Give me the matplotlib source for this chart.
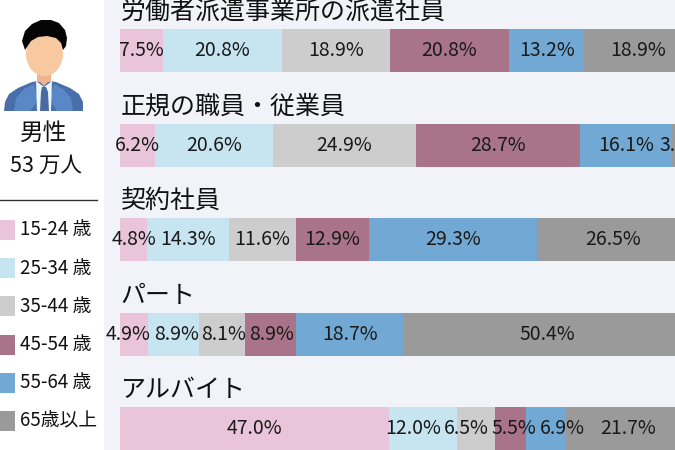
import matplotlib
matplotlib.use("Agg")
import matplotlib.pyplot as plt
from matplotlib.patches import Rectangle, Ellipse, Polygon
import numpy as np

plt.rcParams['font.family'] = ['Noto Sans CJK JP', 'DejaVu Sans']

# ---- data ----
categories = ['労働者派遣事業所の派遣社員', '正規の職員・従業員', '契約社員', 'パート', 'アルバイト']
age_groups = ['15-24 歳', '25-34 歳', '35-44 歳', '45-54 歳', '55-64 歳', '65歳以上']
age_15_24 = [7.5, 6.2, 4.8, 4.9, 47.0]
age_25_34 = [20.8, 20.6, 14.3, 8.9, 12.0]
age_35_44 = [18.9, 24.9, 11.6, 8.1, 6.5]
age_45_54 = [20.8, 28.7, 12.9, 8.9, 5.5]
age_55_64 = [13.2, 16.1, 29.3, 18.7, 6.9]
age_65_up = [18.9, 3.5, 26.5, 50.4, 21.7]
series = [age_15_24, age_25_34, age_35_44, age_45_54, age_55_64, age_65_up]
colors = ['#e9c4da', '#c7e4f1', '#cdcdcd', '#a97489', '#71a9d4', '#9a9a9a']
gender_label = '男性'
total_label = '53 万人'

W, H = 675, 450
fig = plt.figure(figsize=(W / 100, H / 100), dpi=100)
fig.patch.set_facecolor('#f2f3f8')

# overlay axes in pixel coordinates (left panel)
bg = fig.add_axes([0, 0, 1, 1])
bg.set_xlim(0, W)
bg.set_ylim(H, 0)
bg.axis('off')
bg.add_patch(Rectangle((0, 0), 103.5, H, facecolor='white', edgecolor='none'))

# person icon
suit = Polygon([(4, 111), (5, 102), (9, 94), (18, 88), (32, 82), (44, 80), (56, 82),
                (70, 88), (79, 94), (83, 102), (83, 111)], closed=True,
               facecolor='#4a6ea9', edgecolor='none')
bg.add_patch(suit)
bg.add_patch(Polygon([(14, 111), (16, 98), (24, 89), (34, 84), (38, 100), (30, 111)],
                     closed=True, facecolor='#5a87c5', edgecolor='none'))
bg.add_patch(Polygon([(73, 111), (71, 98), (63, 89), (54, 84), (50, 100), (57, 111)],
                     closed=True, facecolor='#5a87c5', edgecolor='none'))
bg.add_patch(Polygon([(36, 81), (44, 87), (52, 81), (51, 111), (37, 111)], closed=True,
                     facecolor='#eef6fd', edgecolor='none'))
bg.add_patch(Rectangle((37, 68), 14, 14, facecolor='#efb48e', edgecolor='none'))
bg.add_patch(Polygon([(38, 80), (44, 86), (50, 80)], closed=True,
                     facecolor='#efb48e', edgecolor='none'))
bg.add_patch(Polygon([(42, 87), (46, 87), (48, 92), (49, 111), (40, 111), (41, 92)],
                     closed=True, facecolor='#4a6aa3', edgecolor='none'))
bg.add_patch(Ellipse((44.5, 54), 37, 44, facecolor='#f8c9a1', edgecolor='none'))
hair = Polygon([(25, 50), (22, 41), (25, 31), (32, 24), (41, 20), (51, 20), (59, 23),
                (65, 30), (67, 38), (66, 46), (63, 50), (61, 43), (56, 38), (47, 36),
                (38, 37), (31, 41), (27, 47)], closed=True, facecolor='#050505',
               edgecolor='none')
bg.add_patch(hair)

bg.text(44, 133, gender_label, fontsize=17, ha='center', va='center', color='#111111')
bg.text(46, 166, total_label, fontsize=15.5, ha='center', va='center', color='#111111')
bg.plot([0, 97], [199.5, 199.5], color='#333333', lw=1)

# legend
for k, (lab, col) in enumerate(zip(age_groups, colors)):
    yc = 230 + k * 38.2
    bg.add_patch(Rectangle((-5, yc - 10), 20, 20, facecolor=col, edgecolor='none'))
    bg.text(20, yc, lab, fontsize=13.5, ha='left', va='center', color='#111111')

# bar axes
bar_left = 120
px_per_pct = 5.72
row_step = 94.5
bar_h_px = 43
first_top = 29
n = len(categories)
y0 = (0 - (first_top + bar_h_px / 2)) / row_step
y1 = (H - (first_top + bar_h_px / 2)) / row_step
ax = fig.add_axes([bar_left / W, 0, 100 * px_per_pct / W, 1])
ax.set_xlim(0, 100)
ax.set_ylim(y1, y0)
ax.axis('off')
ax.patch.set_alpha(0)

ypos = np.arange(n)
bh = bar_h_px / row_step
left = np.zeros(n)
label_objs = [[] for _ in range(n)]
for vals, col in zip(series, colors):
    vals = np.array(vals)
    ax.barh(ypos, vals, left=left, height=bh, color=col, edgecolor='none')
    for i in range(n):
        t = ax.text(left[i] + vals[i] / 2, ypos[i], f'{vals[i]:.1f}%', ha='center',
                    va='center', fontsize=14, color='#1a1a1a', clip_on=False)
        label_objs[i].append(t)
    left += vals

for i, cat in enumerate(categories):
    ax.text(0.1, ypos[i] - bh / 2 - 17 / row_step, cat, fontsize=18, ha='left',
            va='center', color='#111111')

# resolve label overlaps within each row
fig.canvas.draw()
renderer = fig.canvas.get_renderer()
for i in range(n):
    texts = label_objs[i]
    xs = [ax.transData.transform((t.get_position()[0], 0))[0] for t in texts]
    ws = [t.get_window_extent(renderer).width for t in texts]
    gap = 3
    for _ in range(100):
        moved = False
        for j in range(len(texts) - 1):
            ov = (xs[j] + ws[j] / 2 + gap) - (xs[j + 1] - ws[j + 1] / 2)
            if ov > 0.01:
                xs[j] -= ov / 2
                xs[j + 1] += ov / 2
                moved = True
        if not moved:
            break
    for t, xp in zip(texts, xs):
        xd = ax.transData.inverted().transform((xp, 0))[0]
        t.set_x(xd)

fig.savefig('out.png', dpi=100, facecolor=fig.get_facecolor())
